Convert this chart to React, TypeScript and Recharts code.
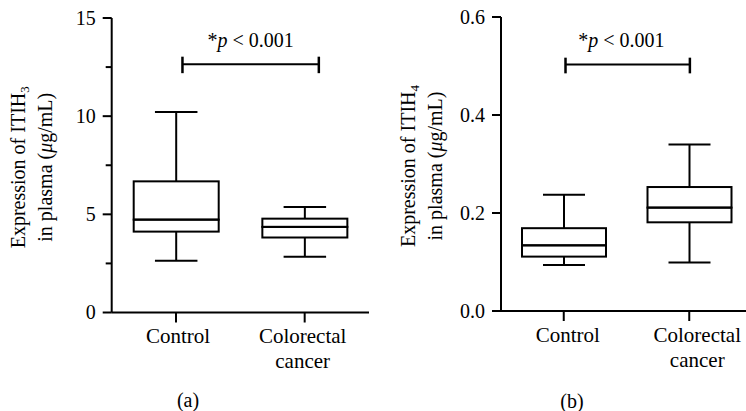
import {
  ComposedChart,
  Bar,
  XAxis,
  YAxis,
  ReferenceLine,
  ReferenceDot,
  Label,
} from "recharts";

const categories = ["Control", "Colorectal cancer"];
const categoryLines = [["Control"], ["Colorectal", "cancer"]];

// ITIH3 in plasma (ug/mL): whisker ends and quartiles
const itih3Min = [2.64, 2.84];
const itih3Q1 = [4.12, 3.82];
const itih3Median = [4.73, 4.36];
const itih3Q3 = [6.68, 4.78];
const itih3Max = [10.21, 5.37];
const itih3Ticks = [0, 2.5, 5, 7.5, 10, 12.5, 15];
const itih3Labelled = [0, 5, 10, 15];

// ITIH4 in plasma (ug/mL)
const itih4Min = [0.094, 0.099];
const itih4Q1 = [0.111, 0.181];
const itih4Median = [0.134, 0.211];
const itih4Q3 = [0.169, 0.253];
const itih4Max = [0.237, 0.34];
const itih4Ticks = [0, 0.2, 0.4, 0.6];
const itih4Labelled = [0, 0.2, 0.4, 0.6];

// significance bracket: [x from, x to, y], cap range, text anchor [x, y]
const itih3Bracket = [0.05, 1.11, 12.64];
const itih3Cap = [12.19, 13.03];
const itih3PText = [0.58, 13.54];
const itih4Bracket = [0.014, 1.005, 0.503];
const itih4Cap = [0.485, 0.517];
const itih4PText = [0.46, 0.539];

const buildRows = (mn: number[], q1: number[], md: number[], q3: number[], mx: number[]) =>
  categories.map((name, i) => ({
    name,
    pos: i,
    base: mn[i],
    lowWhisker: q1[i] - mn[i],
    boxLow: md[i] - q1[i],
    boxHigh: q3[i] - md[i],
    highWhisker: mx[i] - q3[i],
  }));

const itih3Rows = buildRows(itih3Min, itih3Q1, itih3Median, itih3Q3, itih3Max);
const itih4Rows = buildRows(itih4Min, itih4Q1, itih4Median, itih4Q3, itih4Max);

const INK = "#000";
const FONT = "'Liberation Serif', 'Times New Roman', serif";
const textStyle = { fontFamily: FONT, fontSize: 20, fill: INK };

const BoxPart = (p: any) => (
  <rect x={p.x} y={p.y} width={p.width} height={p.height} fill="none" stroke={INK} strokeWidth={2} />
);

const LowWhisker = (p: any) => {
  const cx = p.x + p.width / 2;
  const cap = p.width / 4;
  const yb = p.y + p.height;
  return (
    <g stroke={INK} strokeWidth={2}>
      <line x1={cx} x2={cx} y1={p.y} y2={yb} />
      <line x1={cx - cap} x2={cx + cap} y1={yb} y2={yb} />
    </g>
  );
};

const HighWhisker = (p: any) => {
  const cx = p.x + p.width / 2;
  const cap = p.width / 4;
  return (
    <g stroke={INK} strokeWidth={2}>
      <line x1={cx} x2={cx} y1={p.y} y2={p.y + p.height} />
      <line x1={cx - cap} x2={cx + cap} y1={p.y} y2={p.y} />
    </g>
  );
};

const YTick = (props: any) => {
  const { x, y, payload, labelled, fmt } = props;
  const major = labelled.includes(payload.value);
  const len = major ? 9 : 6;
  return (
    <g>
      <line x1={x - len} x2={x} y1={y} y2={y} stroke={INK} strokeWidth={2} />
      {major && (
        <text x={x - 16} y={y} dy="0.33em" textAnchor="end" style={textStyle}>
          {fmt(payload.value)}
        </text>
      )}
    </g>
  );
};

const XTick = (props: any) => {
  const { x, y, payload, shifts } = props;
  const i = payload.value;
  const lines = categoryLines[i] || [];
  const dx = shifts[i] || 0;
  return (
    <g>
      <line x1={x} x2={x} y1={y} y2={y + 10} stroke={INK} strokeWidth={2} />
      {lines.map((t: string, k: number) => (
        <text
          key={k}
          x={x + dx}
          y={y + 30.5 + k * 25}
          textAnchor="middle"
          style={{ ...textStyle, fontSize: 21 }}
        >
          {t}
        </text>
      ))}
    </g>
  );
};

const YTitle = (props: any) => {
  const vb = props.viewBox || { x: 0, y: 0, width: 0, height: 0 };
  const right = vb.x + vb.width;
  const cy = vb.y + vb.height / 2 + 2;
  const b1 = right - 86.5;
  const b2 = right - 59.5;
  return (
    <g>
      <text x={b1} y={cy} textAnchor="middle" transform={`rotate(-90, ${b1}, ${cy})`} style={textStyle}>
        <tspan>Expression of ITIH</tspan>
        <tspan style={{ fontSize: 13 }} dy={4}>{props.sub}</tspan>
      </text>
      <text x={b2} y={cy} textAnchor="middle" transform={`rotate(-90, ${b2}, ${cy})`} style={textStyle}>
        <tspan>in plasma (</tspan>
        <tspan style={{ fontStyle: "italic" }}>μ</tspan>
        <tspan>g/mL)</tspan>
      </text>
    </g>
  );
};

const PText = (p: any) => (
  <text x={p.cx} y={p.cy} textAnchor="middle" style={textStyle}>
    <tspan>*</tspan>
    <tspan style={{ fontStyle: "italic" }}>p</tspan>
    <tspan> &lt; 0.001</tspan>
  </text>
);

const Panel = (props: any) => {
  const {
    rows, ticks, labelled, fmt, yMax, bracket, cap, pText, sub,
    width, margin, axisWidth, barSize, shifts,
  } = props;
  return (
    <ComposedChart width={width} height={411} data={rows} margin={margin}>
      <XAxis
        dataKey="pos"
        type="number"
        domain={[-0.5, 1.5]}
        ticks={[0, 1]}
        interval={0}
        height={60}
        tickSize={0}
        tickMargin={0}
        tickLine={false}
        axisLine={{ stroke: INK, strokeWidth: 2 }}
        tick={<XTick shifts={shifts} />}
      />
      <YAxis
        type="number"
        domain={[0, yMax]}
        ticks={ticks}
        interval={0}
        width={axisWidth}
        tickSize={0}
        tickMargin={0}
        tickLine={false}
        axisLine={{ stroke: INK, strokeWidth: 2 }}
        tick={<YTick labelled={labelled} fmt={fmt} />}
      >
        <Label content={<YTitle sub={sub} />} />
      </YAxis>
      <Bar dataKey="base" stackId="box" fill="none" barSize={barSize} isAnimationActive={false} />
      <Bar dataKey="lowWhisker" stackId="box" barSize={barSize} shape={<LowWhisker />} isAnimationActive={false} />
      <Bar dataKey="boxLow" stackId="box" barSize={barSize} shape={<BoxPart />} isAnimationActive={false} />
      <Bar dataKey="boxHigh" stackId="box" barSize={barSize} shape={<BoxPart />} isAnimationActive={false} />
      <Bar dataKey="highWhisker" stackId="box" barSize={barSize} shape={<HighWhisker />} isAnimationActive={false} />
      <ReferenceLine
        segment={[{ x: bracket[0], y: bracket[2] }, { x: bracket[1], y: bracket[2] }]}
        stroke={INK}
        strokeWidth={2}
      />
      <ReferenceLine
        segment={[{ x: bracket[0], y: cap[0] }, { x: bracket[0], y: cap[1] }]}
        stroke={INK}
        strokeWidth={2.5}
      />
      <ReferenceLine
        segment={[{ x: bracket[1], y: cap[0] }, { x: bracket[1], y: cap[1] }]}
        stroke={INK}
        strokeWidth={2.5}
      />
      <ReferenceDot x={pText[0]} y={pText[1]} r={0} shape={PText} />
    </ComposedChart>
  );
};

const panelLabel = (left: number, top: number, text: string) => (
  <div
    style={{
      position: "absolute",
      left: left - 30,
      top,
      width: 60,
      textAlign: "center",
      fontSize: 20,
      lineHeight: "18px",
      fontFamily: FONT,
      color: INK,
    }}
  >
    {text}
  </div>
);

export default function App() {
  return (
    <div
      style={{
        position: "absolute",
        left: 0,
        top: 0,
        width: 746,
        height: 411,
        overflow: "hidden",
        background: "#fff",
        fontFamily: FONT,
      }}
    >
      <div style={{ position: "absolute", left: 0, top: 0 }}>
        <Panel
          rows={itih3Rows}
          ticks={itih3Ticks}
          labelled={itih3Labelled}
          fmt={(v: number) => String(v)}
          yMax={15}
          bracket={itih3Bracket}
          cap={itih3Cap}
          pText={itih3PText}
          sub="3"
          width={373}
          margin={{ top: 18, right: 4, bottom: 38.5, left: 0 }}
          axisWidth={111.7}
          barSize={85}
          shifts={[2, -2]}
        />
      </div>
      <div style={{ position: "absolute", left: 373, top: 0 }}>
        <Panel
          rows={itih4Rows}
          ticks={itih4Ticks}
          labelled={itih4Labelled}
          fmt={(v: number) => v.toFixed(1)}
          yMax={0.6}
          bracket={itih4Bracket}
          cap={itih4Cap}
          pText={itih4PText}
          sub="4"
          width={379}
          margin={{ top: 17, right: 0, bottom: 40, left: 0 }}
          axisWidth={128}
          barSize={84}
          shifts={[4, 8]}
        />
      </div>
      {panelLabel(188, 391, "(a)")}
      {panelLabel(572, 392, "(b)")}
    </div>
  );
}
